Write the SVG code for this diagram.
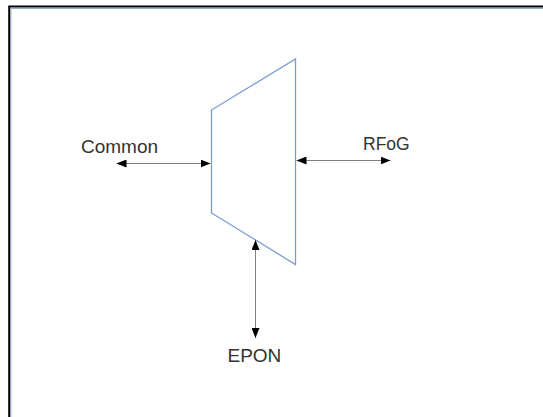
<svg xmlns="http://www.w3.org/2000/svg" width="543" height="417" viewBox="0 0 543 417">
<style>
.lbl{font-family:"Liberation Sans",Arial,sans-serif;font-size:19px;fill:#333}
.conn{stroke:#808080;stroke-width:1;fill:none}
</style>
<defs>
<marker id="ah" viewBox="0 0 10 8" refX="10" refY="4" markerWidth="10" markerHeight="8" markerUnits="userSpaceOnUse" orient="auto-start-reverse">
<path d="M0,0 L10,4 L0,8 Z" fill="#000"/>
</marker>
</defs>
<rect width="543" height="417" fill="#fff"/>
<g id="frame">
<rect x="9.2" y="6.5" width="560" height="440" fill="none" stroke="#000" stroke-width="2"/>
<path d="M10.8,420 V8.3 H560" fill="none" stroke="#8296b4" stroke-width="1"/>
</g>
<g id="splitter">
<polygon points="211.5,110 295.5,59 295.5,264.5 211.5,213" fill="#fff" stroke="#7a9ed0" stroke-width="1.3"/>
</g>
<g id="common">
<text class="lbl" x="81" y="152.5">Common</text>
</g>
<g id="rfog">
<text class="lbl" x="363" y="150" style="font-size:17.5px">RFoG</text>
</g>
<g id="epon">
<text class="lbl" x="227.5" y="361.5">EPON</text>
</g>
<g id="connectors">
<line class="conn" x1="116.5" y1="163.5" x2="210.5" y2="163.5" marker-start="url(#ah)" marker-end="url(#ah)"/>
<line class="conn" x1="296.5" y1="160.5" x2="390.5" y2="160.5" marker-start="url(#ah)" marker-end="url(#ah)"/>
<line class="conn" x1="255.5" y1="240" x2="255.5" y2="338" marker-start="url(#ah)" marker-end="url(#ah)"/>
</g>
</svg>
